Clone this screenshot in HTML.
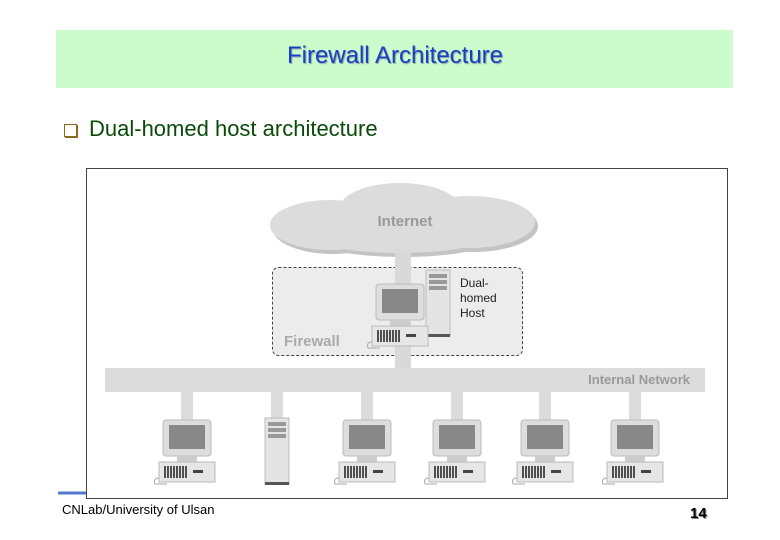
<!DOCTYPE html>
<html><head><meta charset="utf-8"><style>
body{margin:0;width:780px;height:540px;background:#fff;position:relative;overflow:hidden;font-family:"Liberation Sans",sans-serif}
.band{position:absolute;left:56px;top:30px;width:677px;height:58px;background:#ccfccc}
.title{position:absolute;left:0;top:42px;width:790px;text-align:center;font-size:24px;color:#1a3fc0;text-shadow:1px 1px 1px #8899aa}
.bul{position:absolute;left:64px;top:124px;width:11px;height:11px;border:1px solid #8a6a20;box-shadow:1px 1px 0 #8a6a20}
.sub{position:absolute;left:89px;top:116px;font-size:22px;color:#0a4a0a}
.foot{position:absolute;left:62px;top:502px;font-size:13px;color:#000}
.num{position:absolute;left:690px;top:505px;font-size:15px;font-weight:bold;color:#000;text-shadow:1px 1px 0 #888}
</style></head><body>
<div class="band"></div>
<div class="title">Firewall Architecture</div>
<div class="bul"></div>
<div class="sub">Dual-homed host architecture</div>
<svg style="position:absolute;left:0;top:0" width="780" height="540">
<defs>
<g id="pc">
<rect x="-24" y="0" width="48" height="36" rx="3" fill="#ddd" stroke="#bbb"/>
<rect x="-18" y="5" width="36" height="24" fill="#888"/>
<rect x="-10" y="36" width="20" height="6" fill="#ccc"/>
<rect x="-28" y="42" width="56" height="20" fill="#e6e6e6" stroke="#bbb"/>
<g stroke="#000" stroke-width="1.3"><path d="M-22 46v12M-19 46v12M-16 46v12M-13 46v12M-10 46v12M-7 46v12M-4 46v12M-1 46v12"/></g>
<rect x="6" y="50" width="10" height="3" fill="#444"/>
<path d="M-28 58q-6 0-4 6h12" fill="none" stroke="#aaa"/>
</g>
<g id="tw">
<rect x="-12" y="0" width="24" height="66" fill="#e4e4e4" stroke="#bbb"/>
<rect x="-9" y="4" width="18" height="4" fill="#999"/>
<rect x="-9" y="10" width="18" height="4" fill="#999"/>
<rect x="-9" y="16" width="18" height="4" fill="#999"/>
<rect x="-12" y="64" width="24" height="3" fill="#555"/>
</g>
</defs>
<rect x="86.5" y="168.5" width="641" height="330" fill="#fff" stroke="#444"/>
<line x1="58" y1="493" x2="86" y2="493" stroke="#5577cc" stroke-width="3"/>
<g fill="#c4c4c4" transform="translate(3,4)">
<ellipse cx="330" cy="225" rx="60" ry="25"/><ellipse cx="400" cy="208" rx="60" ry="25"/><ellipse cx="470" cy="222" rx="65" ry="26"/><ellipse cx="400" cy="235" rx="90" ry="18"/></g>
<g fill="#dcdcdc">
<ellipse cx="330" cy="225" rx="60" ry="25"/><ellipse cx="400" cy="208" rx="60" ry="25"/><ellipse cx="470" cy="222" rx="65" ry="26"/><ellipse cx="400" cy="235" rx="90" ry="18"/></g>
<text x="405" y="226" font-size="15" font-weight="bold" fill="#999" text-anchor="middle">Internet</text>
<rect x="272.5" y="267.5" width="250" height="88" rx="6" fill="#ececec" stroke="#444" stroke-dasharray="3,2"/>
<rect x="395" y="250" width="16" height="125" fill="#d9d9d9"/>
<rect x="105" y="368" width="600" height="24" fill="#dcdcdc"/>
<text x="690" y="384" font-size="13" font-weight="bold" fill="#999" text-anchor="end">Internal Network</text>
<text x="284" y="346" font-size="15" font-weight="bold" fill="#aaa">Firewall</text>
<use href="#tw" x="438" y="270"/>
<use href="#pc" x="400" y="284"/>
<text x="460" y="287" font-size="12" fill="#222">Dual-</text>
<text x="460" y="302" font-size="12" fill="#222">homed</text>
<text x="460" y="317" font-size="12" fill="#222">Host</text>
<g fill="#dcdcdc">
<rect x="181" y="392" width="12" height="30"/><rect x="271" y="392" width="12" height="30"/><rect x="361" y="392" width="12" height="30"/><rect x="451" y="392" width="12" height="30"/><rect x="539" y="392" width="12" height="30"/><rect x="629" y="392" width="12" height="30"/></g>
<use href="#pc" x="187" y="420"/>
<use href="#tw" x="277" y="418"/>
<use href="#pc" x="367" y="420"/>
<use href="#pc" x="457" y="420"/>
<use href="#pc" x="545" y="420"/>
<use href="#pc" x="635" y="420"/>
</svg>
<div class="foot">CNLab/University of Ulsan</div>
<div class="num">14</div>
</body></html>
